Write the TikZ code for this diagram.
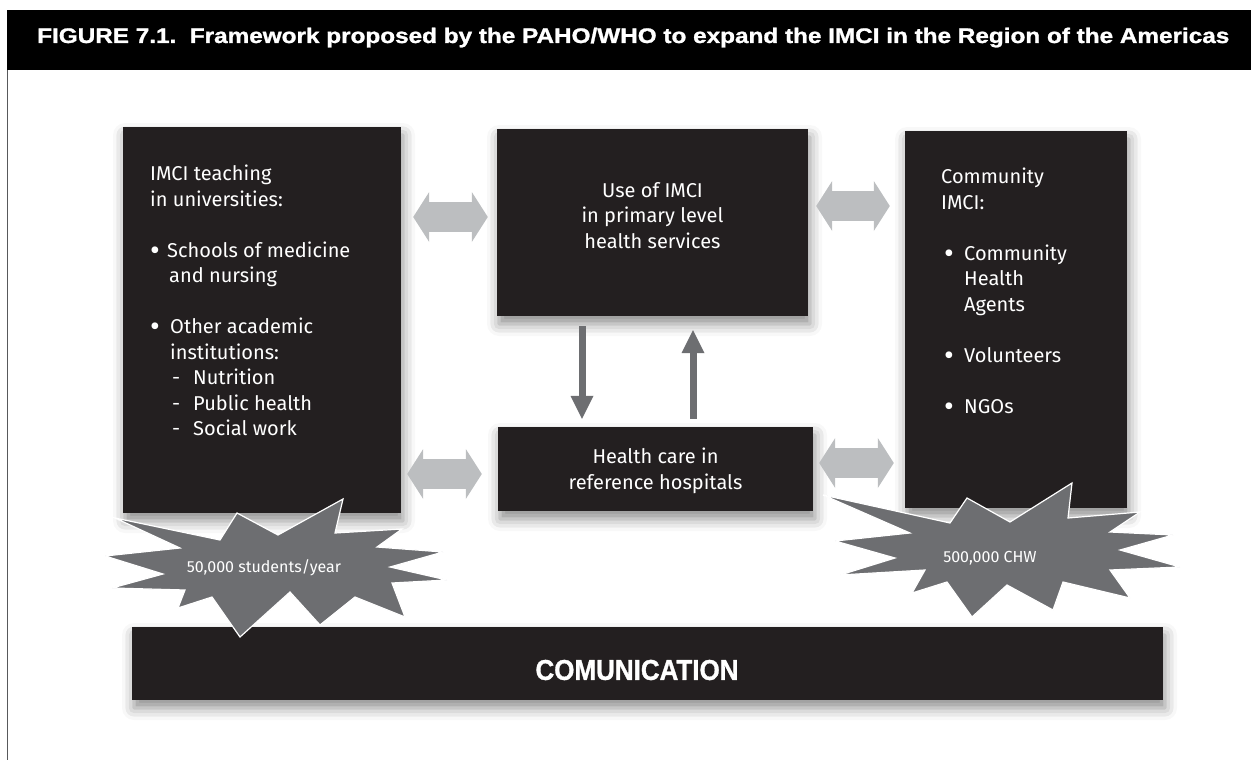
\documentclass[tikz,border=0pt]{standalone}
\usepackage{fontspec}
\setmainfont{Fira Sans}
\newfontfamily\titlefont[FakeBold=1.2]{Liberation Sans}
\usepackage{graphicx}
\usetikzlibrary{arrows.meta,calc,shadows.blur}
\definecolor{boxblack}{HTML}{231F20}
\definecolor{arrowlight}{HTML}{BCBEC0}
\definecolor{arrowdark}{HTML}{6D6E71}
\definecolor{framegray}{HTML}{58595B}
\newcommand\blt{\raisebox{-3pt}{\scalebox{1.5}{\textbullet}}}

\begin{document}
\begin{tikzpicture}[x=1pt,y=-1pt,
	box/.style={fill=boxblack,inner sep=0pt,blur shadow={shadow xshift=2pt,shadow yshift=-8pt,shadow blur radius=12pt,shadow opacity=45}},
	txt/.style={text=white,font=\fontsize{20}{25.5}\selectfont,inner sep=0pt},
	dblarrow/.style={arrowlight,line width=30pt,{Triangle[width=50pt,length=16pt,line width=0pt]}-{Triangle[width=50pt,length=16pt,line width=0pt]}},
	vlink/.style={arrowdark,line width=7pt,-{Triangle[width=23pt,length=23pt,line width=0pt]}},
	starburst/.style={fill=arrowdark,draw=white,line width=1.2pt,line join=miter},
	startext/.style={text=white,font=\fontsize{16}{19}\selectfont,inner sep=0pt}]
	\useasboundingbox (0,0) rectangle (1251,760);

	% title bar and frame
	\fill[black] (7,10) rectangle (1251,70);
	\draw[framegray,line width=1.5pt] (7.5,70) -- (7.5,760);
	\node[anchor=base west,text=white,inner sep=0pt] (title) at (37,43)
		{\resizebox{1192pt}{15.3pt}{\titlefont\bfseries FIGURE 7.1.\ \ Framework proposed by the PAHO/WHO to expand the IMCI in the Region of the Americas}};

	% boxes
	\node[box,minimum width=278pt,minimum height=386pt] (imci) at (262,320) {};
	\node[box,minimum width=311pt,minimum height=187pt] (prim) at (652.5,222.5) {};
	\node[box,minimum width=315pt,minimum height=84pt] (hosp) at (655.5,469) {};
	\node[box,minimum width=222pt,minimum height=377pt] (comm) at (1016,319.5) {};
	\node[box,minimum width=1031pt,minimum height=73pt] (bar) at (647.5,663.5) {};

	\node[txt,align=left,anchor=north west] (imcitxt) at (150,165) {IMCI teaching\\in universities:\\[25.5pt]
		\makebox[17pt][l]{\blt}Schools of medicine\\\hspace*{19pt}and nursing\\[25.5pt]
		\makebox[20pt][l]{\blt}Other academic\\\hspace*{20pt}institutions:\\
		\hspace*{22pt}\makebox[21pt][l]{-}Nutrition\\
		\hspace*{22pt}\makebox[21pt][l]{-}Public health\\
		\hspace*{22pt}\makebox[21pt][l]{-}Social work};
	\node[txt,align=center,anchor=north] (primtxt) at (652.5,182) {Use of IMCI\\in primary level\\health services};
	\node[txt,align=center,anchor=north] (hosptxt) at (655.5,448) {Health care in\\reference hospitals};
	\node[txt,align=left,anchor=north west] (commtxt) at (941,168) {Community\\IMCI:\\[25.5pt]
		\hspace*{3pt}\makebox[20pt][l]{\blt}Community\\\hspace*{23pt}Health\\\hspace*{23pt}Agents\\[25.5pt]
		\hspace*{3pt}\makebox[20pt][l]{\blt}Volunteers\\[25.5pt]
		\hspace*{3pt}\makebox[20pt][l]{\blt}NGOs};
	\node[anchor=center,text=white,inner sep=0pt] (comtxt) at (637,670)
		{\resizebox{203pt}{20pt}{\titlefont\bfseries COMUNICATION}};

	% links
	\draw[dblarrow] ($(imci.east)+(12,-103)$) -- ($(prim.west)+(-9,-5.5)$);
	\draw[dblarrow] ($(imci.east)+(6,154)$) -- ($(hosp.west)+(-16,5)$);
	\draw[dblarrow] ($(prim.east)+(8,-16.5)$) -- ($(comm.west)+(-15,-113.5)$);
	\draw[dblarrow] ($(hosp.east)+(6,-6)$) -- ($(comm.west)+(-11,143.5)$);
	\draw[vlink] ($(prim.south)+(-70.5,10)$) -- ($(hosp.north)+(-73.5,-8)$);
	\draw[vlink] ($(hosp.north)+(37.5,-8)$) -- ($(prim.south)+(40.5,14)$);

	% starbursts
	\filldraw[starburst] (115,518) -- (220,540) -- (237,513) -- (278,535) -- (343,499) -- (335,533)
		-- (402,529) -- (377,547) -- (443,552) -- (390,567) -- (447,580) -- (392,583) -- (405,617)
		-- (355,597) -- (320,625) -- (290,592) -- (240,637) -- (212,597) -- (178,608) -- (185,590)
		-- (112,588) -- (163,574) -- (105,556) -- (180,548) -- cycle;
	\node[startext] (stud) at (264,568) {50,000 students/year};
	\filldraw[starburst] (823,495) -- (910,533) -- (835,541) -- (895,558) -- (840,575) -- (925,570)
		-- (912,593) -- (947,582) -- (972,617) -- (1007,585) -- (1053,610) -- (1063,582) -- (1130,598)
		-- (1110,570) -- (1180,567) -- (1120,550) -- (1173,535) -- (1110,532) -- (1140,512) -- (1068,518)
		-- (1072,483) -- (1010,522) -- (967,498) -- (950,523) -- cycle;
	\node[startext] (chw) at (990,558) {500,000 CHW};
\end{tikzpicture}
\end{document}
